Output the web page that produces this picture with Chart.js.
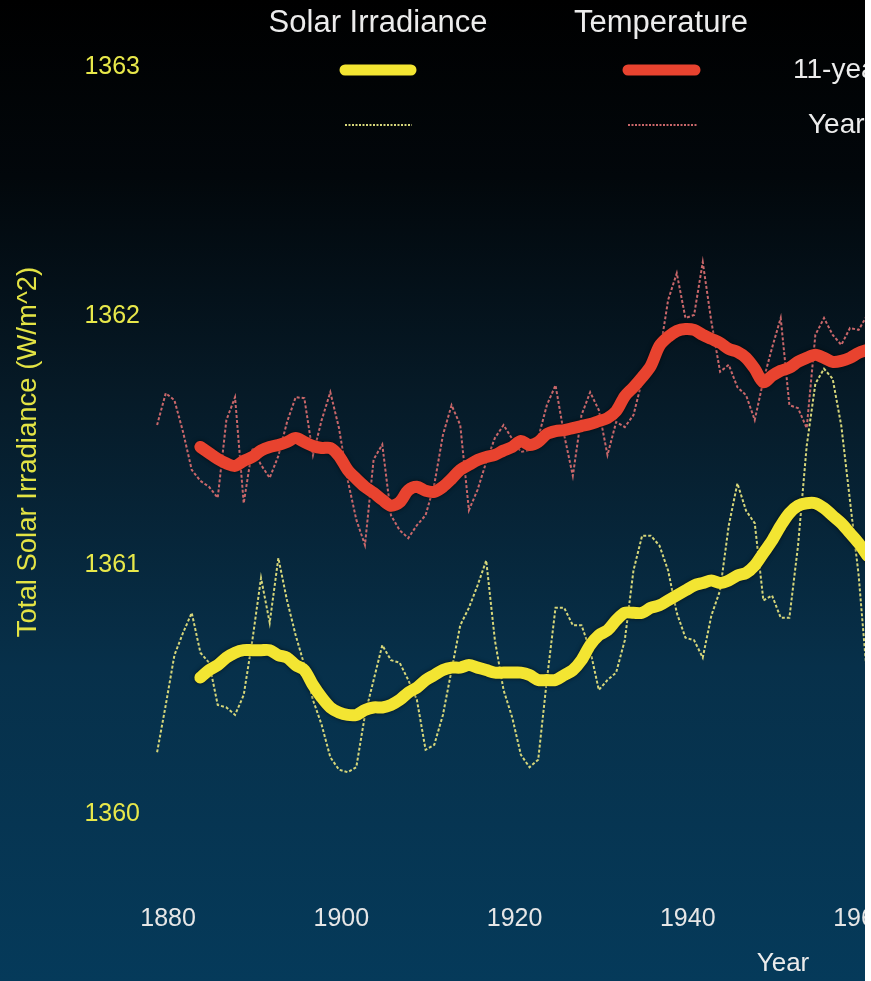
<!DOCTYPE html>
<html lang="en">
<head>
<meta charset="UTF-8" />
<title>Solar Irradiance vs Temperature</title>
<script src="https://cdn.jsdelivr.net/npm/chart.js"></script>
<style>
  html, body { margin: 0; padding: 0; background: #ffffff; }
  #frame {
    width: 865px;
    height: 981px;
    overflow: hidden;
    background: linear-gradient(to bottom, #000000 0%, #02070b 18%, #061a27 40%, #07304a 68%, #053a5a 100%);
  }
  canvas { display: block; }
</style>
</head>
<body>
<div id="frame"><canvas id="tsiChart" width="960" height="981"></canvas></div>
<script>
// years on the x axis
const years = [
  1880, 1881, 1882, 1883, 1884, 1885, 1886, 1887, 1888, 1889,
  1890, 1891, 1892, 1893, 1894, 1895, 1896, 1897, 1898, 1899,
  1900, 1901, 1902, 1903, 1904, 1905, 1906, 1907, 1908, 1909,
  1910, 1911, 1912, 1913, 1914, 1915, 1916, 1917, 1918, 1919,
  1920, 1921, 1922, 1923, 1924, 1925, 1926, 1927, 1928, 1929,
  1930, 1931, 1932, 1933, 1934, 1935, 1936, 1937, 1938, 1939,
  1940, 1941, 1942, 1943, 1944, 1945, 1946, 1947, 1948, 1949,
  1950, 1951, 1952, 1953, 1954, 1955, 1956, 1957, 1958, 1959,
  1960, 1961, 1962
];

// total solar irradiance, W/m^2, yearly
const tsiYearly = [
  1360.25, 1360.44, 1360.64, 1360.73, 1360.81, 1360.65, 1360.61, 1360.44, 1360.43, 1360.40,
  1360.48, 1360.70, 1360.95, 1360.77, 1361.03, 1360.86, 1360.72, 1360.60, 1360.46, 1360.36,
  1360.23, 1360.18, 1360.17, 1360.19, 1360.40, 1360.54, 1360.68, 1360.62, 1360.61, 1360.54,
  1360.46, 1360.26, 1360.28, 1360.40, 1360.58, 1360.76, 1360.83, 1360.92, 1361.02, 1360.70,
  1360.50, 1360.39, 1360.24, 1360.19, 1360.22, 1360.54, 1360.83, 1360.83, 1360.76, 1360.76,
  1360.66, 1360.50, 1360.54, 1360.57, 1360.70, 1360.98, 1361.12, 1361.12, 1361.08, 1360.98,
  1360.81, 1360.71, 1360.70, 1360.63, 1360.80, 1360.90, 1361.16, 1361.33, 1361.22, 1361.17,
  1360.86, 1360.88, 1360.79, 1360.79, 1361.08, 1361.48, 1361.73, 1361.79, 1361.75, 1361.56,
  1361.26, 1360.96, 1360.54
];

// total solar irradiance, 11-year average
const tsiAverage = [
  null, null, null, null, null, 1360.55, 1360.58, 1360.60, 1360.63, 1360.65,
  1360.66, 1360.66, 1360.66, 1360.66, 1360.64, 1360.63, 1360.60, 1360.58, 1360.52, 1360.47,
  1360.43, 1360.41, 1360.40, 1360.40, 1360.42, 1360.43, 1360.43, 1360.44, 1360.46, 1360.49,
  1360.51, 1360.54, 1360.56, 1360.58, 1360.59, 1360.59, 1360.60, 1360.59, 1360.58, 1360.57,
  1360.57, 1360.57, 1360.57, 1360.56, 1360.54, 1360.54, 1360.54, 1360.56, 1360.58, 1360.62,
  1360.68, 1360.72, 1360.74, 1360.78, 1360.81, 1360.81, 1360.81, 1360.83, 1360.84, 1360.86,
  1360.88, 1360.90, 1360.92, 1360.93, 1360.94, 1360.93, 1360.94, 1360.96, 1360.97, 1361.00,
  1361.05, 1361.10, 1361.16, 1361.21, 1361.24, 1361.25, 1361.25, 1361.23, 1361.20, 1361.17,
  1361.13, 1361.09, 1361.04
];

// temperature anomaly (degC), yearly
const tempYearly = [
  -0.218, -0.154, -0.168, -0.232, -0.308, -0.330, -0.342, -0.364, -0.208, -0.162,
  -0.375, -0.264, -0.298, -0.324, -0.280, -0.212, -0.162, -0.164, -0.278, -0.208,
  -0.152, -0.224, -0.328, -0.408, -0.459, -0.287, -0.257, -0.399, -0.429, -0.445,
  -0.419, -0.399, -0.338, -0.238, -0.178, -0.218, -0.389, -0.348, -0.292, -0.244,
  -0.218, -0.246, -0.272, -0.268, -0.244, -0.178, -0.138, -0.238, -0.320, -0.198,
  -0.152, -0.188, -0.278, -0.212, -0.222, -0.198, -0.128, -0.092, -0.078, 0.033,
  0.087, -0.003, 0.003, 0.109, -0.011, -0.111, -0.097, -0.142, -0.158, -0.208,
  -0.128, -0.063, -0.003, -0.178, -0.184, -0.224, -0.037, -0.003, -0.037, -0.057,
  -0.023, -0.027, 0.003
];

// temperature anomaly (degC), 11-year average
const tempAverage = [
  null, null, null, null, null, -0.262, -0.274, -0.286, -0.295, -0.300,
  -0.290, -0.282, -0.269, -0.262, -0.258, -0.252, -0.244, -0.252, -0.260, -0.264,
  -0.264, -0.280, -0.308, -0.326, -0.342, -0.354, -0.368, -0.380, -0.373, -0.349,
  -0.342, -0.350, -0.352, -0.342, -0.326, -0.308, -0.298, -0.288, -0.282, -0.278,
  -0.269, -0.262, -0.250, -0.258, -0.252, -0.236, -0.230, -0.228, -0.224, -0.220,
  -0.216, -0.210, -0.204, -0.190, -0.160, -0.142, -0.122, -0.099, -0.059, -0.041,
  -0.029, -0.025, -0.027, -0.037, -0.045, -0.053, -0.065, -0.071, -0.083, -0.105,
  -0.132, -0.119, -0.109, -0.103, -0.091, -0.083, -0.077, -0.083, -0.091, -0.089,
  -0.083, -0.073, -0.067
];

const xTicks = [1880, 1900, 1920, 1940, 1960];
const yTicks = [1360, 1361, 1362, 1363];

// axis ranges
const X_MIN = 1878.95, X_MAX = 1972.7;
const Y_MIN = 1359.717, Y_MAX = 1363.271;
// temperature axis (hidden): 1362 W/m^2 <-> 0 degC, 1 W/m^2 <-> 0.5 degC
const T_MIN = (Y_MIN - 1362) * 0.5, T_MAX = (Y_MAX - 1362) * 0.5;

const YELLOW = '#f3e532';
const RED = '#e8432f';
const YELLOW_THIN = '#d6d67a';
const RED_THIN = '#c9676a';
const FONT = '"Liberation Sans", Arial, sans-serif';

function points(values) {
  return years.map((yr, i) => ({ x: yr, y: values[i] }));
}

// header, line samples, row labels and axis titles
const keyPlugin = {
  id: 'keyPlugin',
  afterDraw(chart) {
    const ctx = chart.ctx;
    ctx.save();
    ctx.fillStyle = '#ececec';
    ctx.textBaseline = 'alphabetic';
    ctx.textAlign = 'center';
    ctx.font = '31px ' + FONT;
    ctx.fillText('Solar Irradiance', 378, 32);
    ctx.fillText('Temperature', 661, 32);

    ctx.lineCap = 'round';
    ctx.lineWidth = 11;
    ctx.strokeStyle = YELLOW;
    ctx.beginPath(); ctx.moveTo(345, 70); ctx.lineTo(411, 70); ctx.stroke();
    ctx.strokeStyle = RED;
    ctx.beginPath(); ctx.moveTo(628, 70); ctx.lineTo(695, 70); ctx.stroke();

    ctx.lineCap = 'butt';
    ctx.lineWidth = 2;
    ctx.setLineDash([2, 1.5]);
    ctx.strokeStyle = YELLOW_THIN;
    ctx.beginPath(); ctx.moveTo(345, 125); ctx.lineTo(412, 125); ctx.stroke();
    ctx.strokeStyle = RED_THIN;
    ctx.beginPath(); ctx.moveTo(628, 125); ctx.lineTo(697, 125); ctx.stroke();
    ctx.setLineDash([]);

    ctx.textAlign = 'left';
    ctx.textBaseline = 'middle';
    ctx.font = '28px ' + FONT;
    ctx.fillText('11-year average', 793, 70);
    ctx.fillText('Yearly', 808, 125);

    ctx.textAlign = 'center';
    ctx.font = '26px ' + FONT;
    ctx.fillText('Year', 783, 964);

    // y axis title
    ctx.fillStyle = '#e3e344';
    ctx.font = '27.5px ' + FONT;
    ctx.translate(28, 452);
    ctx.rotate(-Math.PI / 2);
    ctx.fillText('Total Solar Irradiance (W/m^2)', 0, 0);
    ctx.restore();
  }
};

// soft dark edge under the thick average lines
const shadowPlugin = {
  id: 'shadowPlugin',
  beforeDatasetDraw(chart, args) {
    if (chart.data.datasets[args.index].borderWidth > 5) {
      chart.ctx.save();
      chart.ctx.shadowColor = 'rgba(0,0,0,0.6)';
      chart.ctx.shadowBlur = 4;
    }
  },
  afterDatasetDraw(chart, args) {
    if (chart.data.datasets[args.index].borderWidth > 5) chart.ctx.restore();
  }
};

const ctx = document.getElementById('tsiChart').getContext('2d');
new Chart(ctx, {
  type: 'line',
  data: {
    datasets: [
      {
        label: 'Temperature 11-year average',
        data: points(tempAverage),
        yAxisID: 'yT',
        borderColor: RED,
        borderWidth: 12,
        borderCapStyle: 'round',
        borderJoinStyle: 'round',
        tension: 0.3,
        pointRadius: 0,
        order: 0
      },
      {
        label: 'Solar Irradiance 11-year average',
        data: points(tsiAverage),
        yAxisID: 'y',
        borderColor: YELLOW,
        borderWidth: 12,
        borderCapStyle: 'round',
        borderJoinStyle: 'round',
        tension: 0.3,
        pointRadius: 0,
        order: 1
      },
      {
        label: 'Temperature yearly',
        data: points(tempYearly),
        yAxisID: 'yT',
        borderColor: RED_THIN,
        borderWidth: 2,
        borderDash: [3, 2],
        tension: 0,
        pointRadius: 0,
        order: 2
      },
      {
        label: 'Solar Irradiance yearly',
        data: points(tsiYearly),
        yAxisID: 'y',
        borderColor: YELLOW_THIN,
        borderWidth: 2,
        borderDash: [3, 2],
        tension: 0,
        pointRadius: 0,
        order: 3
      }
    ]
  },
  options: {
    responsive: false,
    animation: false,
    layout: { padding: 0 },
    plugins: {
      legend: { display: false },
      tooltip: { enabled: false }
    },
    scales: {
      x: {
        type: 'linear',
        min: X_MIN,
        max: X_MAX,
        grid: { display: false, drawTicks: false },
        border: { display: false },
        afterBuildTicks: (s) => { s.ticks = xTicks.map(v => ({ value: v })); },
        afterFit: (s) => { s.height = 96; s.paddingLeft = 0; s.paddingRight = 0; },
        ticks: {
          color: '#e6e6e6',
          font: { family: FONT, size: 25 },
          padding: 19,
          labelOffset: 11,
          maxRotation: 0,
          callback: (v) => String(v)
        }
      },
      y: {
        position: 'left',
        min: Y_MIN,
        max: Y_MAX,
        grid: { display: false, drawTicks: false },
        border: { display: false },
        afterBuildTicks: (s) => { s.ticks = yTicks.map(v => ({ value: v })); },
        afterFit: (s) => { s.width = 148; s.paddingTop = 0; s.paddingBottom = 0; },
        ticks: {
          color: '#e8e84a',
          font: { family: FONT, size: 25 },
          padding: 8,
          callback: (v) => String(v)
        }
      },
      yT: {
        display: false,
        min: T_MIN,
        max: T_MAX
      }
    }
  },
  plugins: [shadowPlugin, keyPlugin]
});
</script>
</body>
</html>
